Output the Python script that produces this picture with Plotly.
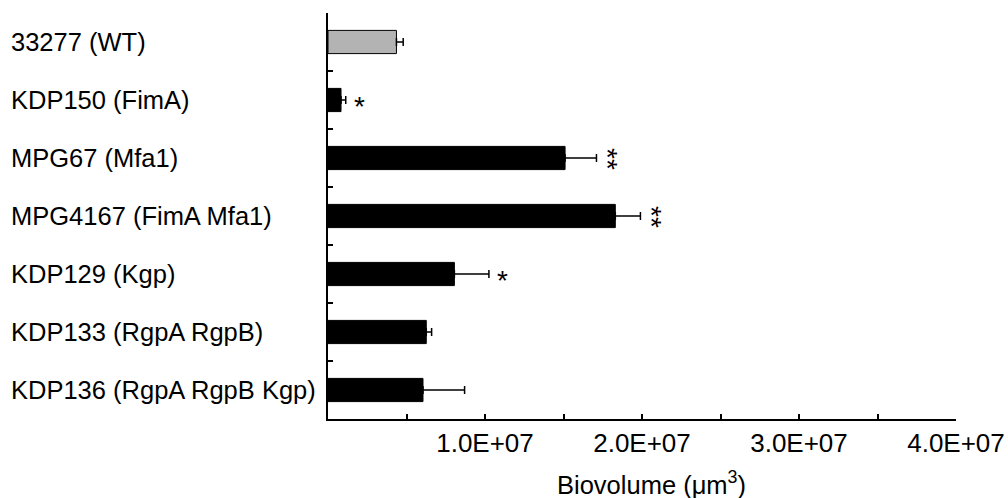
import plotly.graph_objects as go

categories = ["33277 (WT)", "KDP150 (FimA)", "MPG67 (Mfa1)", "MPG4167 (FimA Mfa1)",
              "KDP129 (Kgp)", "KDP133 (RgpA RgpB)", "KDP136 (RgpA RgpB Kgp)"]
values = [4.36e6, 0.83e6, 15.1e6, 18.3e6, 8.05e6, 6.26e6, 6.05e6]
errors = [0.43e6, 0.30e6, 2.0e6, 1.6e6, 2.2e6, 0.34e6, 2.65e6]
signif = ["", "*", "**", "**", "*", "", ""]
bar_colors = ["#b3b3b3", "#000000", "#000000", "#000000", "#000000", "#000000", "#000000"]

x_tickvals = [1e7, 2e7, 3e7, 4e7]
x_ticktext = ["1.0E+07", "2.0E+07", "3.0E+07", "4.0E+07"]

FONT = "Liberation Sans, Arial, sans-serif"
L_MARGIN = 328

fig = go.Figure()
fig.add_trace(go.Bar(
    y=categories, x=values, orientation="h",
    marker=dict(color=bar_colors, line=dict(color="#000000", width=1)),
    width=0.4,
    error_x=dict(type="data", symmetric=False, array=errors,
                 arrayminus=[0] * len(errors), color="#000000",
                 thickness=1.5, width=4),
    showlegend=False,
    hoverinfo="skip",
))

# left-aligned category labels
for cat in categories:
    fig.add_annotation(x=0, xref="paper", y=cat, yref="y", text=cat, showarrow=False,
                       xanchor="left", yanchor="middle", xshift=-(L_MARGIN - 9),
                       font=dict(family=FONT, size=25.5, color="#000000"))

for cat, v, e, s in zip(categories, values, errors, signif):
    if not s:
        continue
    if len(s) == 1:
        fig.add_annotation(x=v + e, y=cat, text=s, showarrow=False,
                           xanchor="left", yanchor="middle", xshift=6, yshift=-6,
                           font=dict(family=FONT, size=28, color="#000000"))
    else:
        fig.add_annotation(x=v + e, y=cat, text=s, showarrow=False, textangle=90,
                           xanchor="left", yanchor="middle", xshift=-6, yshift=-1,
                           font=dict(family=FONT, size=28, color="#000000"))

fig.add_annotation(x=0.5, y=0, xref="paper", yref="paper",
                   text="Biovolume (μm<sup>3</sup>)", showarrow=False,
                   xanchor="center", yanchor="middle", xshift=9, yshift=-64,
                   font=dict(family=FONT, size=25.5, color="#000000"))

fig.update_layout(
    width=1008, height=498,
    margin=dict(l=L_MARGIN, r=52, t=13, b=79, autoexpand=False),
    paper_bgcolor="white", plot_bgcolor="white",
    font=dict(family=FONT, color="#000000"),
    bargap=0.6,
)
fig.update_xaxes(
    range=[0, 4e7], tickmode="array", tickvals=x_tickvals, ticktext=x_ticktext,
    ticks="inside", ticklen=5, tickwidth=1.5, tickcolor="#000000",
    minor=dict(tick0=0, dtick=5e6, ticks="inside", ticklen=5, tickwidth=1.5,
               tickcolor="#000000", showgrid=False),
    showline=True, linecolor="#000000", linewidth=1.5,
    showgrid=False, zeroline=False, automargin=False,
    tickfont=dict(family=FONT, size=26, color="#000000"),
)
fig.update_yaxes(
    type="category", categoryorder="array", categoryarray=categories,
    range=[6.5, -0.5], tickson="boundaries",
    ticks="inside", ticklen=5, tickwidth=1.5, tickcolor="#000000",
    showline=True, linecolor="#000000", linewidth=1.5,
    showgrid=False, zeroline=False, showticklabels=False, automargin=False,
)

fig.write_html("out.html", config={"displayModeBar": False},
               post_script="document.body.style.margin='0';")
